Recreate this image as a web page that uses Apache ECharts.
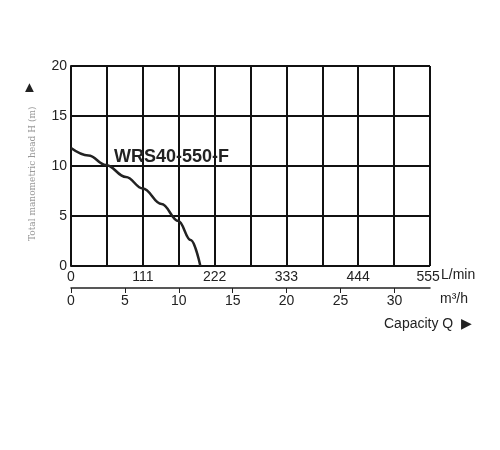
<!DOCTYPE html>
<html>
<head>
<meta charset="utf-8">
<script src="https://cdn.jsdelivr.net/npm/echarts@6/dist/echarts.min.js"></script>
<style>html,body{margin:0;padding:0;background:#fff}#main{width:500px;height:450px}</style>
</head>
<body>
<div id="main"></div>
<script>
// curve: flow (L/min), head (m)
var flow = [0, 27, 54, 85, 111, 140, 166, 185, 200];
var head = [11.8, 11.05, 10.1, 8.9, 7.75, 6.2, 4.5, 2.6, 0];
var modelName = 'WRS40-550-F';

var chart = echarts.init(document.getElementById('main'));
var pts = flow.map(function (f, i) { return [f, head[i]]; });
var txt = {color: '#222', fontFamily: 'Arial, Liberation Sans, sans-serif', fontSize: 14};

chart.setOption({
  animation: false,
  grid: {left: 71, top: 66, width: 359, height: 200},
  title: {
    text: modelName, left: 109, top: 143,
    textStyle: {fontSize: 18, fontWeight: 'bold', color: '#222', fontFamily: 'Arial, Liberation Sans, sans-serif'}
  },
  xAxis: [
    {type: 'value', min: 0, max: 555, interval: 55.5,
      axisLine: {show: false}, axisTick: {show: false}, axisLabel: {show: false},
      splitLine: {lineStyle: {color: '#111', width: 2}}},
    {type: 'value', min: 0, max: 555, interval: 111, position: 'bottom',
      axisLine: {show: false}, axisTick: {show: false}, splitLine: {show: false},
      axisLabel: Object.assign({margin: 4}, txt, {
        formatter: function (v) { return v === 555 ? '555 ' : String(v); },
        align: 'center'
      })},
    {type: 'value', min: 0, max: 33.3, interval: 5, position: 'bottom', offset: 22,
      axisLine: {lineStyle: {color: '#222', width: 1.5}},
      axisTick: {inside: false, length: 5, lineStyle: {color: '#222'}},
      splitLine: {show: false},
      axisLabel: Object.assign({margin: 6, showMaxLabel: false}, txt)}
  ],
  yAxis: {
    type: 'value', min: 0, max: 20, interval: 5,
    axisLine: {show: true, lineStyle: {color: '#111', width: 2}},
    axisTick: {show: false},
    axisLabel: Object.assign({margin: 4}, txt),
    splitLine: {lineStyle: {color: '#111', width: 2}}
  },
  graphic: [
    {type: 'text', left: 441, top: 268, style: {text: 'L/min', fill: '#222', font: '14px Arial'}},
    {type: 'text', left: 440, top: 292, style: {text: 'm³/h', fill: '#222', font: '14px Arial'}},
    {type: 'text', left: 384, top: 317, style: {text: 'Capacity Q  ▶', fill: '#222', font: '14px Arial'}},
    {type: 'text', left: 22, top: 80, style: {text: '▲', fill: '#222', font: '15px Arial'}},
    {type: 'text', x: 33, y: 241, rotation: Math.PI / 2,
      style: {text: 'Total manometric head H (m)', fill: '#999', font: '9px "DejaVu Serif", serif', align: 'left', verticalAlign: 'middle'}}
  ],
  series: [{
    type: 'line', xAxisIndex: 0, data: pts, smooth: 0.4, smoothMonotone: 'x', symbol: 'none',
    lineStyle: {color: '#222', width: 2.5}
  }]
});
</script>
</body>
</html>
